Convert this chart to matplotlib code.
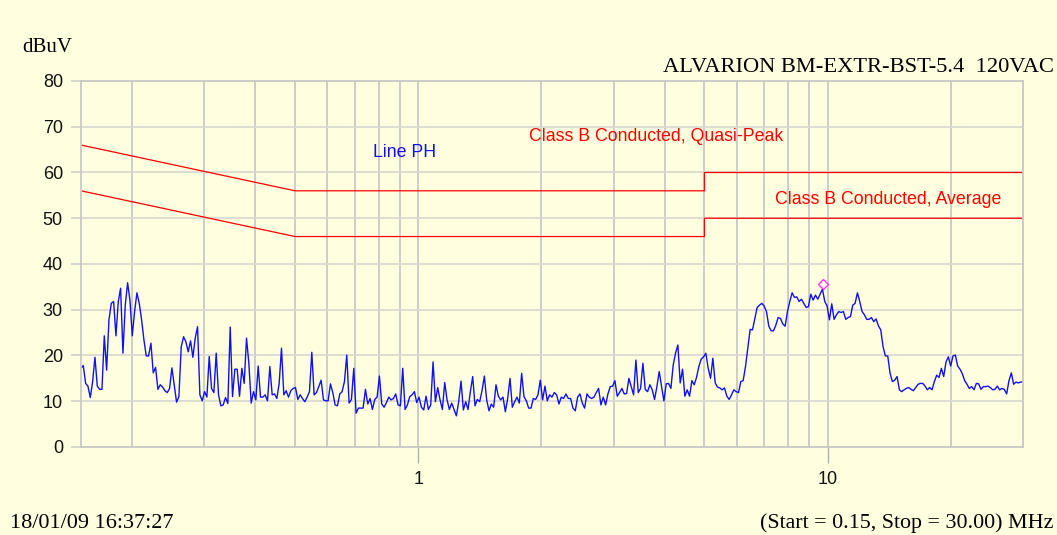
import numpy as np
import matplotlib
matplotlib.use("Agg")
import matplotlib.pyplot as plt
from matplotlib.ticker import FixedLocator, FixedFormatter, NullFormatter

# ---- sweep settings -------------------------------------------------------
START_MHZ = 0.15
STOP_MHZ = 30.0

# ---- measured trace (dBuV), one value per sweep point ---------------------
trace_dbuv = [
    17.2, 17.8, 13.9, 13.3, 10.8, 14.3, 19.6, 13.3, 12.6, 12.6,
    24.3, 16.8, 27.8, 31.4, 31.8, 24.3, 31.8, 34.7, 20.5, 31.0,
    35.9, 32.1, 24.3, 29.6, 33.7, 31.4, 27.8, 23.4, 19.9, 19.9,
    22.7, 16.2, 17.4, 12.6, 13.6, 13.1, 12.3, 11.9, 12.8, 17.3,
    13.6, 9.8, 11.0, 21.9, 24.1, 23.0, 20.8, 23.2, 19.6, 23.8,
    26.3, 11.4, 10.1, 12.1, 10.9, 19.8, 12.8, 11.9, 20.5, 11.4,
    9.0, 9.2, 10.8, 9.5, 26.2, 11.0, 17.0, 17.0,
    11.1, 17.2, 13.9, 23.8, 18.3, 9.6, 12.1, 10.3, 17.7, 10.9,
    10.9, 11.4, 10.1, 17.6, 11.4, 11.6, 10.6, 13.9, 21.6, 11.4,
    12.3, 10.9, 12.3, 12.8, 13.0, 10.4, 11.4, 10.6, 9.9, 10.9,
    12.1, 20.7, 11.4, 11.9, 13.2, 14.6, 10.3, 10.1, 10.1, 13.8,
    11.9, 9.2, 9.0, 11.6, 12.1, 14.3, 20.1, 9.6, 10.4, 17.2,
    7.4, 8.5, 8.5, 8.5, 12.6, 9.4, 10.6, 8.2, 10.4, 10.9,
    15.5, 9.4, 8.7, 9.7, 10.9, 10.3, 10.6, 11.6,
    9.2, 9.0, 17.2, 8.2, 9.2, 11.0, 11.4, 12.1, 9.7, 10.9,
    8.7, 8.1, 11.1, 8.2, 9.2, 18.6, 9.9, 13.0, 10.3, 8.2,
    14.1, 10.3, 8.2, 9.6, 8.2, 6.8, 9.9, 14.4, 8.1, 9.9,
    8.2, 12.1, 15.4, 9.0, 10.4, 9.9, 12.3, 15.5, 10.3, 7.9,
    9.4, 8.7, 13.6, 11.1, 10.3, 10.9, 7.7, 10.6, 15.0, 8.7,
    9.9, 10.9, 9.6, 16.1, 11.0, 10.1, 8.5, 8.5, 10.6, 10.4,
    11.4, 14.6, 10.3, 13.3, 10.1, 11.4, 10.9, 11.9,
    11.4, 9.4, 10.9, 10.6, 11.6, 10.6, 10.6, 8.5, 7.9, 10.9,
    11.6, 9.6, 8.5, 11.6, 10.9, 10.6, 10.9, 11.9, 12.8, 9.2,
    10.9, 9.2, 11.6, 13.2, 13.3, 14.5, 11.1, 11.9, 12.8, 11.6,
    11.7, 15.0, 13.2, 11.4, 19.0, 11.9, 12.8, 18.3, 12.6, 12.1,
    13.6, 12.5, 10.4, 13.2, 16.5, 13.2, 10.1, 13.8, 13.9, 12.8,
    17.9, 20.5, 22.3, 14.0, 17.0, 11.1, 12.5, 11.1, 14.5, 13.6,
    15.2, 17.6, 19.2, 19.7, 20.5, 17.2, 15.0, 19.4, 14.0,
    13.1, 12.9, 12.5, 12.9, 11.1, 10.4, 11.4, 12.5, 12.1, 11.9,
    14.3, 14.5, 17.6, 21.6, 25.7, 25.6, 28.1, 30.5, 31.0, 31.4,
    30.8, 29.6, 26.4, 25.4, 25.4, 26.6, 28.3, 28.1, 26.9, 26.4,
    29.6, 31.8, 33.7, 32.7, 32.8, 31.8, 32.3, 31.4, 30.5, 30.7,
    33.4, 32.1, 33.2, 32.3, 33.4, 34.5, 31.8, 30.8, 27.8, 31.3,
    27.9, 28.9, 29.6, 29.4, 29.6, 27.9, 28.3, 28.5, 31.0, 31.4,
    33.7, 31.8, 29.6, 28.9, 27.9, 27.9, 28.3, 27.4, 28.0, 26.5,
    25.6, 21.9, 19.9, 19.9, 16.1, 14.3, 14.6, 15.4, 12.5, 12.1,
    12.5, 12.8, 13.0, 12.6, 12.3, 13.0, 13.7, 13.9, 13.9, 13.3,
    12.5, 13.0, 12.5, 14.3, 15.7, 15.2, 17.2, 15.4, 18.6, 19.7,
    17.7, 19.9, 20.1, 17.7, 17.0, 16.0, 14.5, 13.7, 12.8, 13.2,
    12.5, 13.9, 13.8, 12.6, 13.2, 13.2, 13.3, 13.0, 12.5, 12.6,
    13.3, 12.5, 12.8, 12.6, 11.6, 14.5, 16.2, 13.7, 14.2, 14.0,
    14.2, 14.2,
]

# ---- Class B conducted limits ---------------------------------------------
qp_limit_mhz = [0.15, 0.5, 5.0, 5.0, 30.0]
qp_limit_db = [66, 56, 56, 60, 60]
avg_limit_mhz = [0.15, 0.5, 5.0, 5.0, 30.0]
avg_limit_db = [56, 46, 46, 50, 50]

# ---- peak marker ----------------------------------------------------------
peak_mhz = 9.76
peak_db = 35.6

# ---- axes ticks / grid ----------------------------------------------------
y_ticks = [0, 10, 20, 30, 40, 50, 60, 70, 80]
x_major = [1, 10]
x_major_labels = ["1", "10"]
x_minor = [0.2, 0.3, 0.4, 0.5, 0.6, 0.7, 0.8, 0.9,
           2, 3, 4, 5, 6, 7, 8, 9, 20, 30]

BG = "#FFFFE0"
GRID = "#C8C8C8"
SANS = ["Liberation Sans", "DejaVu Sans"]
SERIF = ["Liberation Serif", "DejaVu Serif"]

fig = plt.figure(figsize=(10.57, 5.35), dpi=100, facecolor=BG)
ax = fig.add_axes([0.0766, 0.1645, 0.8912, 0.6841], facecolor=BG)

freqs = np.geomspace(START_MHZ, STOP_MHZ, len(trace_dbuv))

ax.set_xscale("log")
ax.set_xlim(START_MHZ, STOP_MHZ)
ax.set_ylim(0, 80)

ax.xaxis.set_major_locator(FixedLocator(x_major))
ax.xaxis.set_major_formatter(FixedFormatter(x_major_labels))
ax.xaxis.set_minor_locator(FixedLocator(x_minor))
ax.xaxis.set_minor_formatter(NullFormatter())
ax.yaxis.set_major_locator(FixedLocator(y_ticks))

ax.grid(True, axis="x", which="both", color=GRID, lw=1.3)
ax.grid(True, axis="y", which="major", color="#DADAD2", lw=1.3)
ax.set_axisbelow(True)

for side in ax.spines.values():
    side.set_color(GRID)
    side.set_linewidth(1.3)

ax.tick_params(axis="y", which="major", direction="out", length=7,
               width=1.3, color="#D2D2CC", pad=6, labelsize=13)
ax.tick_params(axis="x", which="major", direction="out", length=11.5,
               width=1.0, color="#B0B0B0", pad=6, labelsize=13)
ax.tick_params(axis="x", which="minor", length=0)
for lab in ax.get_xticklabels() + ax.get_yticklabels():
    lab.set_family(SANS)
    lab.set_color("#111111")

# limit lines
ax.plot(qp_limit_mhz, qp_limit_db, color="#FF0000", lw=0.9)
ax.plot(avg_limit_mhz, avg_limit_db, color="#FF0000", lw=0.9)

# measured trace
ax.plot(freqs, trace_dbuv, color="#1010F5", lw=1.0)

# peak marker
ax.plot([peak_mhz], [peak_db], ls="none", marker="D", ms=4.8,
        mfc="none", mec="#FF33FF", mew=1.0)

# in-plot labels
ax.text(1.864, 67.9, "Class B Conducted, Quasi-Peak", color="#FF0000",
        fontsize=12.8, family=SANS, va="center", ha="left")
ax.text(7.43, 54.2, "Class B Conducted, Average", color="#FF0000",
        fontsize=12.8, family=SANS, va="center", ha="left")
ax.text(0.775, 64.3, "Line PH", color="#1010F5",
        fontsize=12.8, family=SANS, va="center", ha="left")

# page annotations
fig.text(0.0208, 0.903, "dBuV", fontsize=15, family=SERIF,
         ha="left", va="baseline")
fig.text(0.997, 0.865, "ALVARION BM-EXTR-BST-5.4  120VAC", fontsize=16.2,
         family=SERIF, ha="right", va="baseline")
fig.text(0.0095, 0.013, "18/01/09 16:37:27", fontsize=16,
         family=SERIF, ha="left", va="baseline")
fig.text(0.997, 0.013, "(Start = 0.15, Stop = 30.00) MHz", fontsize=15.8,
         family=SERIF, ha="right", va="baseline")

fig.savefig("out.png", dpi=100, facecolor=BG)
